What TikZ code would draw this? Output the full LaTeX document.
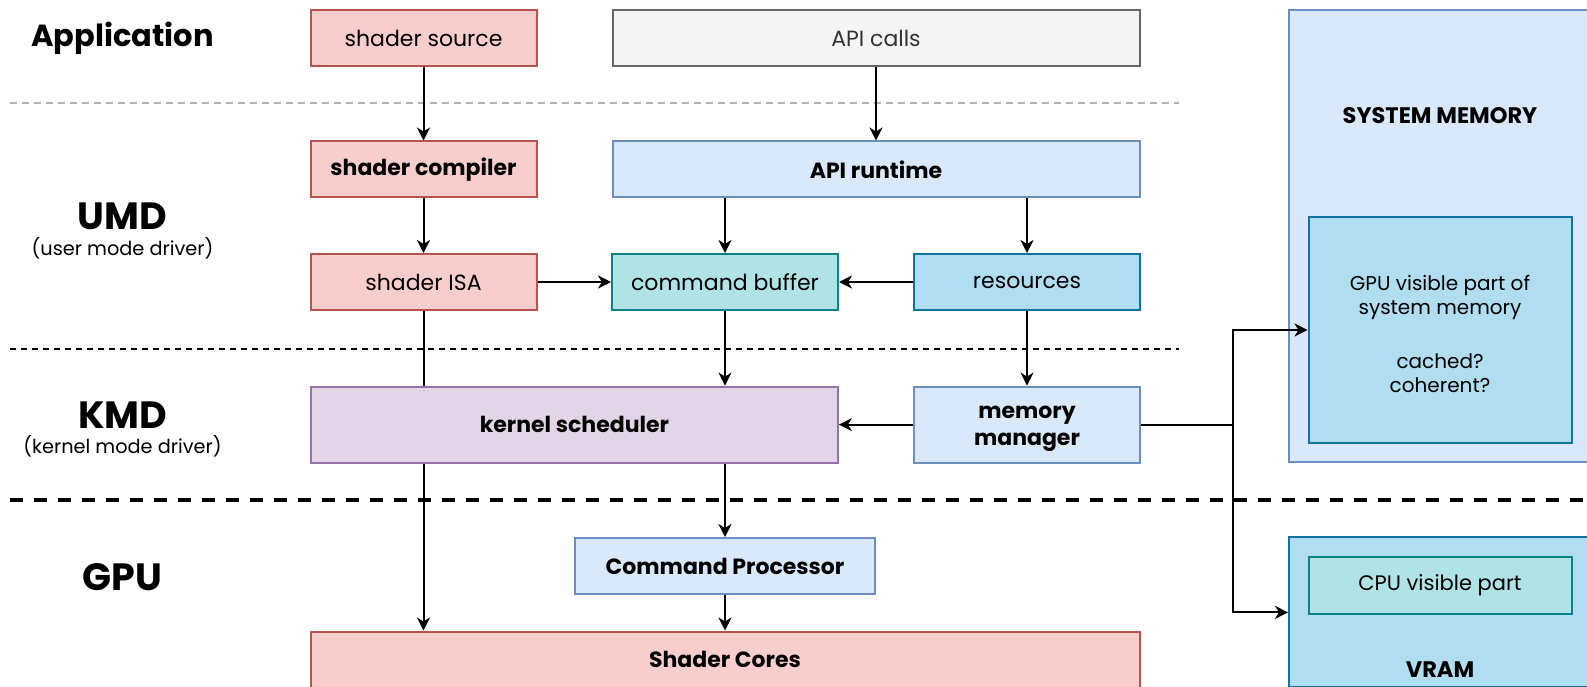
\documentclass[tikz,border=0pt]{standalone}
\usepackage{fontspec}
\setmainfont{Poppins}
\usetikzlibrary{arrows.meta,backgrounds}
\definecolor{redfill}{HTML}{F8CECC}
\definecolor{redline}{HTML}{B85450}
\definecolor{grayfill}{HTML}{F5F5F5}
\definecolor{grayline}{HTML}{666666}
\definecolor{bluefill}{HTML}{DAE8FC}
\definecolor{blueline}{HTML}{6C8EBF}
\definecolor{purplefill}{HTML}{E1D5E7}
\definecolor{purpleline}{HTML}{9673A6}
\definecolor{tealfill}{HTML}{B0E3E6}
\definecolor{tealline}{HTML}{0E8088}
\definecolor{skyfill}{HTML}{B1DDF0}
\definecolor{skyline}{HTML}{10739E}
\newcommand{\lowered}[1]{\raisebox{-4pt}[\height][\depth]{#1}}

\begin{document}
\begin{tikzpicture}[x=1pt,y=-1pt,
  box/.style={draw,line width=2pt,minimum height=56pt,inner sep=0pt,align=center,
              font=\fontsize{22}{27}\selectfont},
  redbox/.style={box,fill=redfill,draw=redline},
  graybox/.style={box,fill=grayfill,draw=grayline,text=black!80},
  bluebox/.style={box,fill=bluefill,draw=blueline},
  purplebox/.style={box,fill=purplefill,draw=purpleline},
  tealbox/.style={box,fill=tealfill,draw=tealline},
  skybox/.style={box,fill=skyfill,draw=skyline},
  arr/.style={-{Stealth[length=13pt,width=13pt,inset=4pt]},line width=2pt},
  lane/.style={font=\fontsize{38}{40}\selectfont\bfseries},
  sublane/.style={font=\fontsize{19.3}{24}\selectfont},
  memlabel/.style={font=\fontsize{22.5}{26}\selectfont\bfseries}]

  \useasboundingbox (0,0) rectangle (1587,687);
  \clip (0,0) rectangle (1587,687);

  % layer names on the left
  \node[lane,font=\fontsize{30.5}{36}\selectfont\bfseries] (app) at (122.5,38.5) {Application};
  \node[lane] (umd) at (122.5,216) {UMD};
  \node[sublane] (umdsub) at (122.5,248.5) {(user mode driver)};
  \node[lane] (kmd) at (122.5,415) {KMD};
  \node[sublane] (kmdsub) at (122.5,446) {(kernel mode driver)};
  \node[lane] (gpu) at (122.5,577) {GPU};

  % separators
  \draw[black!30,line width=2pt,dash pattern=on 7pt off 5pt] (10,103.2) -- (1179,103.2);
  \draw[line width=1.6pt,dash pattern=on 6pt off 5pt] (10,349) -- (1179,349);
  \draw[line width=3.5pt,dash pattern=on 13pt off 11pt] (10,500) -- (1587,500);

  % application + UMD
  \node[redbox,minimum width=226pt] (src) at (423.5,38) {shader source};
  \node[graybox,minimum width=527pt] (calls) at (876,38) {API calls};
  \node[redbox,minimum width=226pt] (comp) at (423.5,169.5) {\textbf{shader compiler}};
  \node[bluebox,minimum width=527pt] (runtime) at (876,169.5) {\textbf{API runtime}};
  \node[redbox,minimum width=226pt] (isa) at (423.5,282) {shader ISA};
  \node[tealbox,minimum width=226pt] (cmdbuf) at (725,282) {command buffer};
  \node[skybox,minimum width=226pt] (res) at (1027,282) {resources};

  % KMD
  \node[purplebox,minimum width=527pt,minimum height=76pt] (sched) at (574.4,424.6) {\textbf{kernel scheduler}};
  \node[bluebox,minimum width=226pt,minimum height=76pt] (mem) at (1027,424.6)
        {\lowered{\textbf{memory}}\\\lowered{\textbf{manager}}};

  % GPU
  \node[bluebox,minimum width=300pt] (cp) at (725,566) {\textbf{Command Processor}};
  \node[redbox,minimum width=829pt] (cores) at (725,659.5) {\textbf{Shader Cores}};

  % memories
  \node[bluebox,minimum width=302pt,minimum height=452pt] (sysmem) at (1440,236.3) {};
  \node[memlabel] (sysmemlbl) at (1440,115.4) {SYSTEM MEMORY};
  \node[skybox,minimum width=263pt,minimum height=225pt,font=\fontsize{20}{24}\selectfont] (gpuvis) at (1440,330)
        {\lowered{GPU visible part of}\\\lowered{system memory}\\[30pt]\lowered{cached?}\\\lowered{coherent?}};
  \node[skybox,minimum width=302pt,minimum height=150pt] (vram) at (1440,612.4) {};
  \node[tealbox,minimum width=263pt,minimum height=57pt,font=\fontsize{21}{25}\selectfont] (cpuvis) at (1440,585) {CPU visible part};
  \node[memlabel] (vramlbl) at (1440,670) {VRAM};

  % connectors
  \draw[arr] (src) -- (comp);
  \draw[arr] (calls) -- (runtime);
  \draw[arr] (comp) -- (isa);
  \draw[arr] (runtime.south -| cmdbuf) -- (cmdbuf);
  \draw[arr] (runtime.south -| res) -- (res);
  \draw[arr] (isa) -- (cmdbuf);
  \draw[arr] (res) -- (cmdbuf);
  \draw[arr] (cmdbuf) -- (cmdbuf |- sched.north);
  \draw[arr] (res) -- (mem);
  \draw[arr] (mem) -- (sched);
  \draw[arr] (sched.south -| cp) -- (cp);
  \draw[arr] (cp) -- (cp |- cores.north);
  \begin{scope}[on background layer]
    \draw[arr] (isa) -- (isa |- cores.north);  % passes behind the scheduler
  \end{scope}
  \coordinate (split) at (1232.7,424.6);
  \draw[line width=2pt] (mem) -- (split);
  \draw[arr] (split) |- (gpuvis.west);
  \draw[arr] (split) |- (vram);

\end{tikzpicture}
\end{document}
